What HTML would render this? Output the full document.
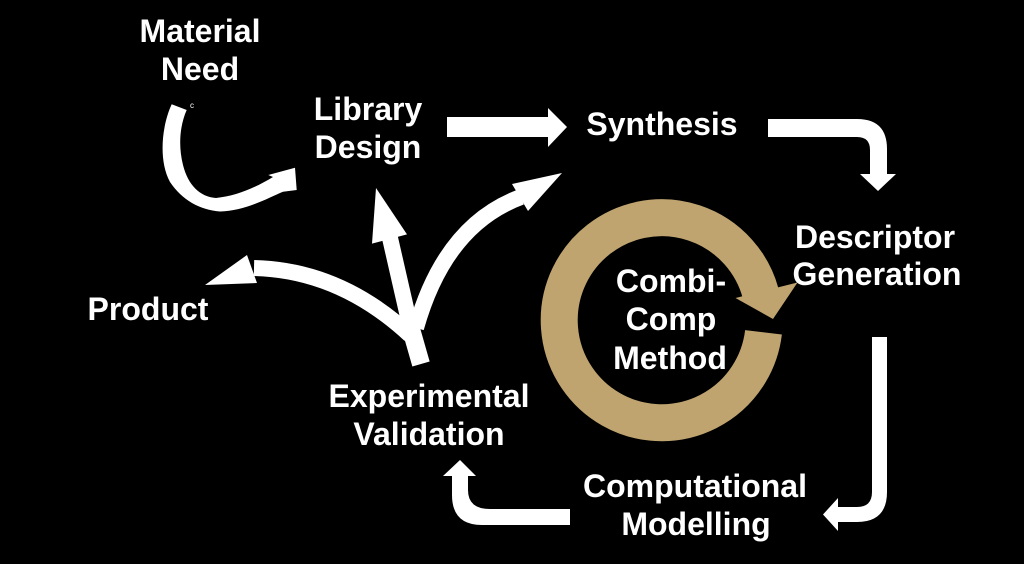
<!DOCTYPE html>
<html><head><meta charset="utf-8"><style>
html,body{margin:0;padding:0;background:#000;}
svg{display:block;}
text{font-family:"Liberation Sans",Arial,sans-serif;font-weight:bold;font-size:32px;fill:#fff;text-anchor:middle;}
</style></head><body>
<svg width="1024" height="564" viewBox="0 0 1024 564" xmlns="http://www.w3.org/2000/svg">
<rect width="1024" height="564" fill="#000"/>

<!-- Gold cycle -->
<path d="M763.5 332.3 A102.5 102.5 0 1 1 760.6 293.2" fill="none" stroke="#BFA470" stroke-width="37"/>
<polygon points="735.5,298 797.5,282.5 773,319" fill="#BFA470"/>

<!-- Material need -> library design crescent -->
<path d="M171.7,104.3 C162,125 158,160 170,182 C182,200 200,210 220,211.5 C245,211 268,198 283,191.7 L296.7,190 L295,167.7 L268.3,175 L273,177 C258,186 238,196 216,198 C200,197 188,185 183,165 C178,145 180,125 186.7,110 Z" fill="#fff"/>
<text x="192" y="108" style="font-size:8px;font-weight:normal">c</text>

<!-- Library -> Synthesis -->
<polygon points="447,117 548,117 548,108 567,127 548,147 548,137 447,137" fill="#fff"/>

<!-- Synthesis -> Descriptor -->
<path d="M768 119 L857 119 Q887 119 887 149 L887 174 L896 174 L878 191 L860 174 L870 174 L870 150 Q870 137 857 137 L768 137 Z" fill="#fff"/>

<!-- Descriptor -> Computational -->
<path d="M872 337 L887 337 L887 492 Q887 522 857 522 L838 522 L838 531 L823 514.5 L838 498 L838 507 L857 507 Q872 507 872 492 Z" fill="#fff"/>

<!-- Computational -> Experimental -->
<path d="M570 509 L490 509 Q468 509 468 490 L468 476 L476 476 L460 460 L443 476 L452 476 L452 495 Q452 525 482 525 L570 525 Z" fill="#fff"/>

<!-- Branching arrows -->
<g fill="none" stroke="#fff">
<line x1="421" y1="364" x2="409" y2="322" stroke-width="18"/>
<line x1="411" y1="330" x2="390" y2="238" stroke-width="16"/>
<path d="M410 335 Q340 270 254 268" stroke-width="16"/>
<path d="M416 328 Q445 225 521 197" stroke-width="16"/>
</g>
<g fill="#fff">
<polygon points="372,243.6 407,234.4 376,188"/>
<polygon points="247,255 205,285 257,283"/>
<polygon points="512,184 562,173 528,211"/>
</g>

<!-- Labels -->
<text x="200" y="42">Material</text>
<text x="200" y="80">Need</text>
<text x="368" y="120">Library</text>
<text x="368" y="158">Design</text>
<text x="662" y="135">Synthesis</text>
<text x="875" y="248">Descriptor</text>
<text x="877" y="285">Generation</text>
<text x="148" y="320">Product</text>
<text x="429" y="407">Experimental</text>
<text x="429" y="445">Validation</text>
<text x="671" y="292">Combi-</text>
<text x="671" y="330">Comp</text>
<text x="670" y="369">Method</text>
<text x="695" y="497">Computational</text>
<text x="696" y="535">Modelling</text>
</svg>
</body></html>
